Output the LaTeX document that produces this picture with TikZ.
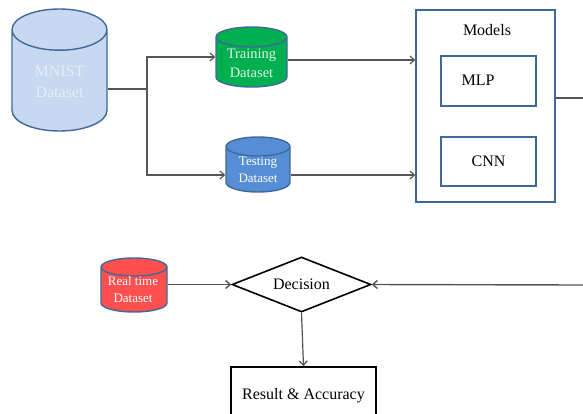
\documentclass[tikz,border=0pt]{standalone}
\usepackage{fontspec}
\setmainfont{Liberation Serif}
\usepackage{xcolor}
\usetikzlibrary{shapes.geometric,arrows.meta}
\definecolor{edgeblue}{HTML}{41689A}
\definecolor{linegray}{HTML}{555555}
\definecolor{mnistfill}{HTML}{C6D9F1}
\definecolor{trainfill}{HTML}{00B050}
\definecolor{testfill}{HTML}{558ED5}
\definecolor{realfill}{HTML}{FF5050}
\definecolor{mnisttext}{HTML}{E6EEF8}
\definecolor{traintext}{HTML}{DDF5E5}
\newcommand{\cylspan}{\rule{40pt}{0pt}}
\tikzset{
  datacyl/.style={draw=edgeblue,line width=1.4pt,cylinder,shape border rotate=90,cylinder uses custom fill,cylinder body fill=#1,cylinder end fill=#1,inner sep=0pt,anchor=shape center},
  cyltext/.style={align=center,inner sep=0pt},
  modelbox/.style={draw=edgeblue,line width=1.4pt,rectangle,inner sep=0pt},
  flow/.style={draw=linegray,line width=1.2pt,-{Straight Barb[length=4.5pt,width=8pt]}},
  plainflow/.style={draw=linegray,line width=1.4pt}
}
\begin{document}
\begin{tikzpicture}[x=1pt,y=-1pt]
    \useasboundingbox (0,0) rectangle (583,413);
    \node[datacyl=mnistfill,minimum width=95,minimum height=122,aspect=1.03] (mnist) at (59.5,70) {\cylspan};
    \node[cyltext,text=mnisttext,font=\fontsize{16}{21}\selectfont] (mnisttitle) at (59.5,82) {MNIST\\Dataset};
    \node[datacyl=trainfill,minimum width=71,minimum height=60,aspect=0.5] (training) at (251.5,57) {\cylspan};
    \node[cyltext,text=traintext,font=\fontsize{14.5}{19}\selectfont] (trainingtitle) at (251.5,63) {Training\\Dataset};
    \node[datacyl=testfill,minimum width=64,minimum height=55,aspect=0.475] (testing) at (258,164.5) {\cylspan};
    \node[cyltext,text=white,font=\fontsize{13}{17}\selectfont] (testingtitle) at (258,170) {Testing\\Dataset};
    \node[datacyl=realfill,minimum width=66,minimum height=54,aspect=0.45] (realtime) at (134,285) {\cylspan};
    \node[cyltext,text=white,font=\fontsize{13}{17}\selectfont] (realtimetitle) at (133,290) {Real time\\Dataset};
    \node[modelbox,minimum width=139,minimum height=192] (models) at (485.5,106) {};
    \node[font=\fontsize{16}{18}\selectfont] (modelstitle) at (487,30) {Models};
    \node[modelbox,minimum width=95,minimum height=50,font=\fontsize{16}{18}\selectfont] (mlp) at (488.5,81) {\raisebox{2pt}{MLP}\hspace{21pt}\null};
    \node[modelbox,minimum width=95,minimum height=49,font=\fontsize{16}{18}\selectfont] (cnn) at (488.5,161.5) {CNN};
    \node[draw=black,line width=1.6pt,diamond,aspect=2.5,inner sep=0pt,minimum width=139,minimum height=55,font=\fontsize{16}{18}\selectfont] (decision) at (301.5,284.5) {Decision};
    \node[draw=black,line width=1.6pt,rectangle,inner sep=0pt,minimum width=145,minimum height=58,font=\fontsize{16}{18}\selectfont] (result) at (303.5,396) {Result \& Accuracy};
    \coordinate (split) at (147,89);
    \coordinate (rightout) at (583,98);
    \coordinate (rightin) at (583,285);
    \draw[plainflow] (mnist.east |- split) -- (split);
    \draw[flow] (split) |- (training.west |- 0,57);
    \draw[flow] (split) |- (testing.west |- 0,175);
    \draw[flow] (training.east |- 0,60) -- (models.west |- 0,60);
    \draw[flow] (testing.east |- 0,175) -- (models.west |- 0,175);
    \draw[plainflow] (models.east |- rightout) -- (rightout);
    \draw[plainflow,-{Straight Barb[length=4.5pt,width=8pt]}] (rightin) -- (decision.east);
    \draw[plainflow,-{Straight Barb[length=4.5pt,width=8pt]}] (realtime.east |- decision.west) -- (decision.west);
    \draw[flow] (decision.south) -- (result.north);
\end{tikzpicture}
\end{document}
